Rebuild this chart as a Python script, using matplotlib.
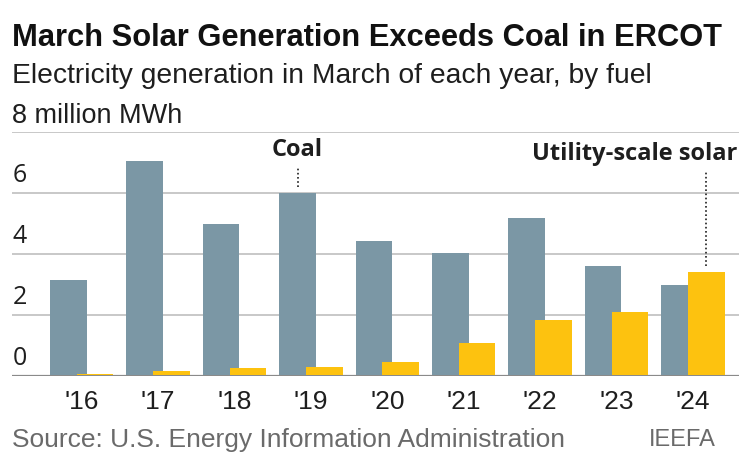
import matplotlib
matplotlib.use("Agg")
import matplotlib.pyplot as plt
from matplotlib import font_manager
import numpy as np

years = ["'16", "'17", "'18", "'19", "'20", "'21", "'22", "'23", "'24"]
coal = [3.12, 7.05, 4.97, 6.00, 4.40, 4.03, 5.16, 3.61, 2.98]
solar = [0.06, 0.16, 0.24, 0.28, 0.45, 1.08, 1.81, 2.08, 3.41]
yticks = [0, 2, 4, 6]

COAL_C = "#7b97a5"
SOLAR_C = "#fdc20f"
TXT = "#1e1e1e"

avail = {f.name for f in font_manager.fontManager.ttflist}
base = "Liberation Sans"
plt.rcParams["font.family"] = [base, "DejaVu Sans"]
bold_fam = ["Open Sans", "DejaVu Sans"] if "Open Sans" in avail else [base, "DejaVu Sans"]

W, H = 750, 456
fig = plt.figure(figsize=(W / 100, H / 100), dpi=100)

def fx(px):
    return px / W

def fy(py):
    return 1 - py / H

ax_left, ax_right, ax_top, ax_bot = 12, 739, 132.9, 377.3
ax = fig.add_axes([fx(ax_left), fy(ax_bot), fx(ax_right - ax_left), (ax_bot - ax_top) / H])

x = np.arange(len(years))
bw = 0.48
off = 0.175
ax.bar(x - off, coal, width=bw, color=COAL_C, zorder=2)
ax.bar(x + off, solar, width=bw, color=SOLAR_C, zorder=3)

ax.set_xlim(-0.912, 8.603)
ax.set_ylim(-0.03, 8)
for v in yticks[1:] + [8]:
    ax.axhline(v, color="#c4c4c4", lw=1.3, zorder=1)
ax.axhline(-0.02, color="#8a8a8a", lw=1.6, zorder=1)
for s in ax.spines.values():
    s.set_visible(False)
ax.set_yticks([])
ax.set_xticks(x)
ax.set_xticklabels(years, fontsize=19, color=TXT)
ax.tick_params(axis="x", length=0, pad=9)

# y labels above gridlines, left aligned
for v in yticks:
    ax.text(-0.90, v + 0.18, str(v), fontsize=18, color=TXT, ha="left", va="bottom",
            family=bold_fam)

# annotations
i19 = years.index("'19")
ax.plot([i19 - off, i19 - off], [coal[i19] + 0.2, coal[i19] + 0.85], ls=(0, (1, 1.5)), color=TXT, lw=1.2, zorder=5)
ax.text(i19 - off, coal[i19] + 1.05, "Coal", fontsize=17, fontweight="bold", color=TXT,
        ha="center", va="bottom", family=bold_fam)
i24 = years.index("'24")
ax.plot([i24 + off, i24 + off], [solar[i24] + 0.17, 6.72], ls=(0, (1, 1.5)), color=TXT, lw=1.2, zorder=5)
ax.text(8.58, 6.9, "Utility-scale solar", fontsize=17, fontweight="bold", color=TXT,
        ha="right", va="bottom", family=bold_fam)

fig.text(fx(12), fy(38), "March Solar Generation Exceeds Coal in ERCOT", fontsize=22.2,
         fontweight="bold", color="#111111", ha="left", va="center")
fig.text(fx(12), fy(76), "Electricity generation in March of each year, by fuel", fontsize=20.3,
         color=TXT, ha="left", va="center")
fig.text(fx(12), fy(116), "8 million MWh", fontsize=19.5, color=TXT, ha="left", va="center")
fig.text(fx(12), fy(440), "Source: U.S. Energy Information Administration", fontsize=19,
         color="#6a6a6a", ha="left", va="center")
fig.text(fx(716), fy(440), "IEEFA", fontsize=17, color="#6a6a6a", ha="right", va="center")

fig.savefig("out.png", dpi=100)
